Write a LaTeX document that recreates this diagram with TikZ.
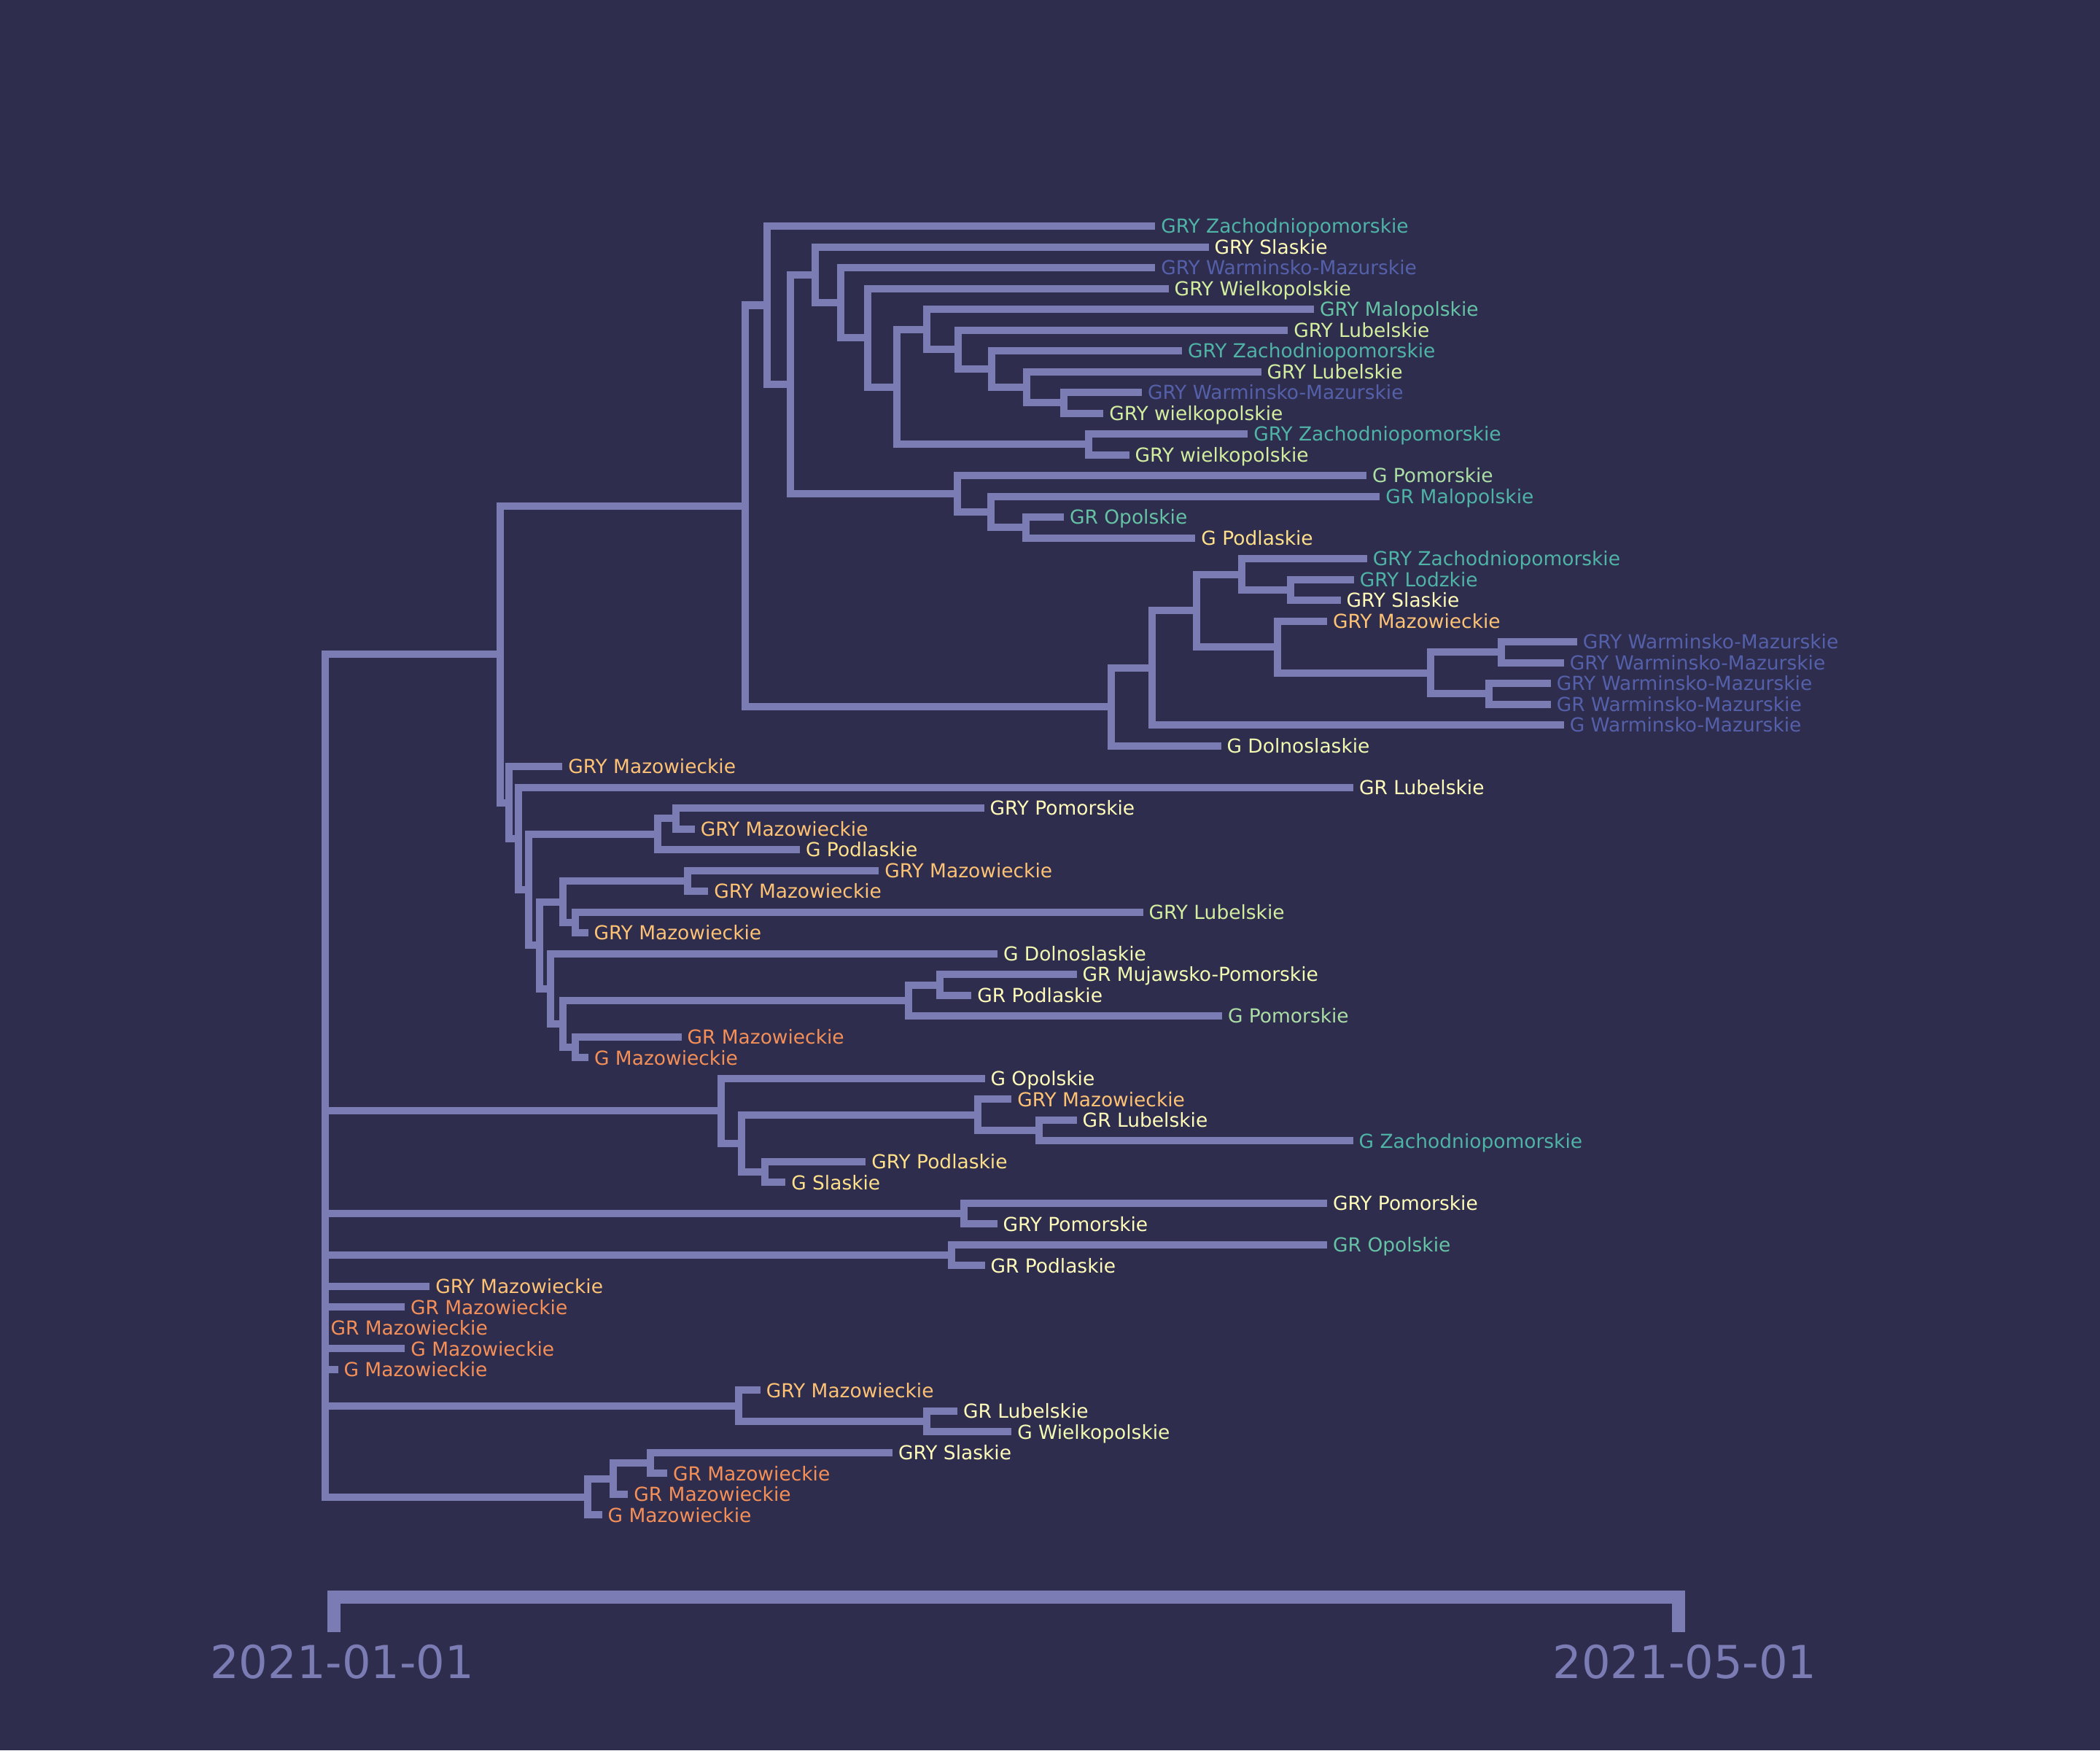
\documentclass[tikz,border=0pt]{standalone}
\usepackage{fontspec}
\setmainfont{DejaVu Sans}
\definecolor{bgnavy}{HTML}{2E2D4E}
\definecolor{lavender}{HTML}{7C7CB5}
\definecolor{zachteal}{HTML}{4FB3A6}
\definecolor{malteal}{HTML}{66C2A5}
\definecolor{pomgreen}{HTML}{ABDDA4}
\definecolor{lubgreen}{HTML}{D2EE9E}
\definecolor{palegreen}{HTML}{F2F9B0}
\definecolor{paleyellow}{HTML}{FFFBB8}
\definecolor{podlyellow}{HTML}{FEE08B}
\definecolor{mazlight}{HTML}{FDC274}
\definecolor{mazorange}{HTML}{F58F58}
\definecolor{warmblue}{HTML}{5560AA}
\tikzset{
  % sample label at the tip of a branch
  leaf/.style={anchor=west, inner xsep=0.08cm, inner ysep=0pt,
    text height=0.8em, text depth=0.2em, font=\fontsize{8.2}{9}\selectfont},
  % tree branches
  branch/.style={draw=lavender, line width=3.1pt, line join=miter},
  % time scale at the bottom
  scalebar/.style={draw=lavender, line width=5.6pt, line join=miter},
  datelabel/.style={anchor=base, text=lavender, inner sep=0pt,
    font=\fontsize{19.3}{22}\selectfont},
}

\begin{document}
\begin{tikzpicture}[x=0.02cm, y={(0cm,-0.02cm)}]
  \fill[bgnavy] (0,0) rectangle (1568,1306.67);
  \useasboundingbox (0,0) rectangle (1568,1306.67);

  % tips
  \node[leaf, text=zachteal] (l1) at (862.6,168.8) {GRY Zachodniopomorskie};
  \node[leaf, text=paleyellow] (l2) at (902.5,184.32) {GRY Slaskie};
  \node[leaf, text=warmblue] (l3) at (862.6,199.84) {GRY Warminsko-Mazurskie};
  \node[leaf, text=lubgreen] (l4) at (872.6,215.36) {GRY Wielkopolskie};
  \node[leaf, text=malteal] (l5) at (981.2,230.88) {GRY Malopolskie};
  \node[leaf, text=lubgreen] (l6) at (961.7,246.4) {GRY Lubelskie};
  \node[leaf, text=zachteal] (l7) at (882.6,261.92) {GRY Zachodniopomorskie};
  \node[leaf, text=lubgreen] (l8) at (941.7,277.44) {GRY Lubelskie};
  \node[leaf, text=warmblue] (l9) at (852.6,292.96) {GRY Warminsko-Mazurskie};
  \node[leaf, text=lubgreen] (l10) at (823.9,308.48) {GRY wielkopolskie};
  \node[leaf, text=zachteal] (l11) at (931.7,324) {GRY Zachodniopomorskie};
  \node[leaf, text=lubgreen] (l12) at (843.1,339.52) {GRY wielkopolskie};
  \node[leaf, text=pomgreen] (l13) at (1020.3,355.04) {G Pomorskie};
  \node[leaf, text=zachteal] (l14) at (1030.3,370.56) {GR Malopolskie};
  \node[leaf, text=malteal] (l15) at (794.4,386.08) {GR Opolskie};
  \node[leaf, text=podlyellow] (l16) at (892.6,401.6) {G Podlaskie};
  \node[leaf, text=zachteal] (l17) at (1020.7,417.12) {GRY Zachodniopomorskie};
  \node[leaf, text=zachteal] (l18) at (1010.9,432.64) {GRY Lodzkie};
  \node[leaf, text=paleyellow] (l19) at (1001,448.16) {GRY Slaskie};
  \node[leaf, text=mazlight] (l20) at (990.9,463.68) {GRY Mazowieckie};
  \node[leaf, text=warmblue] (l21) at (1177.5,479.2) {GRY Warminsko-Mazurskie};
  \node[leaf, text=warmblue] (l22) at (1167.7,494.72) {GRY Warminsko-Mazurskie};
  \node[leaf, text=warmblue] (l23) at (1157.9,510.24) {GRY Warminsko-Mazurskie};
  \node[leaf, text=warmblue] (l24) at (1157.9,525.76) {GR Warminsko-Mazurskie};
  \node[leaf, text=warmblue] (l25) at (1167.7,541.28) {G Warminsko-Mazurskie};
  \node[leaf, text=palegreen] (l26) at (911.7,556.8) {G Dolnoslaskie};
  \node[leaf, text=mazlight] (l27) at (420,572.32) {GRY Mazowieckie};
  \node[leaf, text=paleyellow] (l28) at (1010.5,587.84) {GR Lubelskie};
  \node[leaf, text=paleyellow] (l29) at (734.8,603.36) {GRY Pomorskie};
  \node[leaf, text=mazlight] (l30) at (518.8,618.88) {GRY Mazowieckie};
  \node[leaf, text=podlyellow] (l31) at (597.3,634.4) {G Podlaskie};
  \node[leaf, text=mazlight] (l32) at (656.3,649.92) {GRY Mazowieckie};
  \node[leaf, text=mazlight] (l33) at (528.8,665.44) {GRY Mazowieckie};
  \node[leaf, text=lubgreen] (l34) at (853.5,680.96) {GRY Lubelskie};
  \node[leaf, text=mazlight] (l35) at (439.1,696.48) {GRY Mazowieckie};
  \node[leaf, text=palegreen] (l36) at (744.8,712) {G Dolnoslaskie};
  \node[leaf, text=palegreen] (l37) at (803.9,727.52) {GR Mujawsko-Pomorskie};
  \node[leaf, text=paleyellow] (l38) at (725.4,743.04) {GR Podlaskie};
  \node[leaf, text=pomgreen] (l39) at (912.5,758.56) {G Pomorskie};
  \node[leaf, text=mazorange] (l40) at (508.8,774.08) {GR Mazowieckie};
  \node[leaf, text=mazorange] (l41) at (439.4,789.6) {G Mazowieckie};
  \node[leaf, text=paleyellow] (l42) at (735.3,805.12) {G Opolskie};
  \node[leaf, text=mazlight] (l43) at (755.3,820.64) {GRY Mazowieckie};
  \node[leaf, text=paleyellow] (l44) at (804,836.16) {GR Lubelskie};
  \node[leaf, text=zachteal] (l45) at (1010.3,851.68) {G Zachodniopomorskie};
  \node[leaf, text=podlyellow] (l46) at (646.5,867.2) {GRY Podlaskie};
  \node[leaf, text=podlyellow] (l47) at (586.5,882.72) {G Slaskie};
  \node[leaf, text=paleyellow] (l48) at (991,898.24) {GRY Pomorskie};
  \node[leaf, text=paleyellow] (l49) at (744.6,913.76) {GRY Pomorskie};
  \node[leaf, text=malteal] (l50) at (991,929.28) {GR Opolskie};
  \node[leaf, text=paleyellow] (l51) at (735.3,944.8) {GR Podlaskie};
  \node[leaf, text=mazlight] (l52) at (320.9,960.32) {GRY Mazowieckie};
  \node[leaf, text=mazorange] (l53) at (302.2,975.84) {GR Mazowieckie};
  \node[leaf, text=mazorange] (l54) at (242.6,991.36) {GR Mazowieckie};
  \node[leaf, text=mazorange] (l55) at (302.4,1006.88) {G Mazowieckie};
  \node[leaf, text=mazorange] (l56) at (252.4,1022.4) {G Mazowieckie};
  \node[leaf, text=mazlight] (l57) at (567.8,1037.92) {GRY Mazowieckie};
  \node[leaf, text=paleyellow] (l58) at (714.9,1053.44) {GR Lubelskie};
  \node[leaf, text=palegreen] (l59) at (755.3,1068.96) {G Wielkopolskie};
  \node[leaf, text=paleyellow] (l60) at (666.5,1084.48) {GRY Slaskie};
  \node[leaf, text=mazorange] (l61) at (498.2,1100) {GR Mazowieckie};
  \node[leaf, text=mazorange] (l62) at (469,1115.52) {GR Mazowieckie};
  \node[leaf, text=mazorange] (l63) at (449.5,1131.04) {G Mazowieckie};

  % inner nodes
  \coordinate (c1) at (794.4,300.72);
  \coordinate (c2) at (766.8,289.08);
  \coordinate (c3) at (740.6,275.5);
  \coordinate (c4) at (715.6,260.95);
  \coordinate (c5) at (692,245.92);
  \coordinate (c6) at (813,331.76);
  \coordinate (c7) at (669.9,288.84);
  \coordinate (c8) at (648.1,252.1);
  \coordinate (c9) at (627.9,225.97);
  \coordinate (c10) at (608.9,205.15);
  \coordinate (c11) at (766.2,393.84);
  \coordinate (c12) at (740,382.2);
  \coordinate (c13) at (715,368.62);
  \coordinate (c14) at (590.4,286.88);
  \coordinate (c15) at (573,227.84);
  \coordinate (c16) at (963.4,440.4);
  \coordinate (c17) at (927.2,428.76);
  \coordinate (c18) at (1121.2,486.96);
  \coordinate (c19) at (1112,518);
  \coordinate (c20) at (1068.4,502.48);
  \coordinate (c21) at (954,483.08);
  \coordinate (c22) at (893.3,455.92);
  \coordinate (c23) at (860,498.6);
  \coordinate (c24) at (829.5,527.7);
  \coordinate (c25) at (556.6,377.77);
  \coordinate (c26) at (504.5,611.12);
  \coordinate (c27) at (491.3,622.76);
  \coordinate (c28) at (513.6,657.68);
  \coordinate (c29) at (429.8,688.72);
  \coordinate (c30) at (420.5,673.2);
  \coordinate (c31) at (701.8,735.28);
  \coordinate (c32) at (678.2,746.92);
  \coordinate (c33) at (429.8,781.84);
  \coordinate (c34) at (420.5,764.38);
  \coordinate (c35) at (411.1,738.19);
  \coordinate (c36) at (402.9,705.7);
  \coordinate (c37) at (394.7,664.23);
  \coordinate (c38) at (387.1,626.04);
  \coordinate (c39) at (380.2,599.18);
  \coordinate (c40) at (373.3,488.48);
  \coordinate (c41) at (775.9,843.92);
  \coordinate (c42) at (730.3,832.28);
  \coordinate (c43) at (571,874.96);
  \coordinate (c44) at (553.5,853.62);
  \coordinate (c45) at (538.4,829.37);
  \coordinate (c46) at (719.7,906);
  \coordinate (c47) at (710.3,937.04);
  \coordinate (c48) at (692,1061.2);
  \coordinate (c49) at (551.5,1049.56);
  \coordinate (c50) at (485.7,1092.24);
  \coordinate (c51) at (457.8,1103.88);
  \coordinate (c52) at (439,1117.46);
  \coordinate (root) at (242.6,800);

  % upper clade
  \draw[branch] (l9.west) -| (c1) |- (l10.west);
  \draw[branch] (l8.west) -| (c2) |- (c1);
  \draw[branch] (l7.west) -| (c3) |- (c2);
  \draw[branch] (l6.west) -| (c4) |- (c3);
  \draw[branch] (l5.west) -| (c5) |- (c4);
  \draw[branch] (l11.west) -| (c6) |- (l12.west);
  \draw[branch] (c5) -| (c7) |- (c6);
  \draw[branch] (l4.west) -| (c8) |- (c7);
  \draw[branch] (l3.west) -| (c9) |- (c8);
  \draw[branch] (l2.west) -| (c10) |- (c9);
  \draw[branch] (l15.west) -| (c11) |- (l16.west);
  \draw[branch] (l14.west) -| (c12) |- (c11);
  \draw[branch] (l13.west) -| (c13) |- (c12);
  \draw[branch] (c10) -| (c14) |- (c13);
  \draw[branch] (l1.west) -| (c15) |- (c14);
  \draw[branch] (l18.west) -| (c16) |- (l19.west);
  \draw[branch] (l17.west) -| (c17) |- (c16);
  \draw[branch] (l21.west) -| (c18) |- (l22.west);
  \draw[branch] (l23.west) -| (c19) |- (l24.west);
  \draw[branch] (c18) -| (c20) |- (c19);
  \draw[branch] (l20.west) -| (c21) |- (c20);
  \draw[branch] (c17) -| (c22) |- (c21);
  \draw[branch] (c22) -| (c23) |- (l25.west);
  \draw[branch] (c23) -| (c24) |- (l26.west);
  \draw[branch] (c15) -| (c25) |- (c24);

  % ladder
  \draw[branch] (l29.west) -| (c26) |- (l30.west);
  \draw[branch] (c26) -| (c27) |- (l31.west);
  \draw[branch] (l32.west) -| (c28) |- (l33.west);
  \draw[branch] (l34.west) -| (c29) |- (l35.west);
  \draw[branch] (c28) -| (c30) |- (c29);
  \draw[branch] (l37.west) -| (c31) |- (l38.west);
  \draw[branch] (c31) -| (c32) |- (l39.west);
  \draw[branch] (l40.west) -| (c33) |- (l41.west);
  \draw[branch] (c32) -| (c34) |- (c33);
  \draw[branch] (l36.west) -| (c35) |- (c34);
  \draw[branch] (c30) -| (c36) |- (c35);
  \draw[branch] (c27) -| (c37) |- (c36);
  \draw[branch] (l28.west) -| (c38) |- (c37);
  \draw[branch] (l27.west) -| (c39) |- (c38);
  \draw[branch] (c25) -| (c40) |- (c39);

  % lower clades
  \draw[branch] (l44.west) -| (c41) |- (l45.west);
  \draw[branch] (l43.west) -| (c42) |- (c41);
  \draw[branch] (l46.west) -| (c43) |- (l47.west);
  \draw[branch] (c42) -| (c44) |- (c43);
  \draw[branch] (l42.west) -| (c45) |- (c44);
  \draw[branch] (l48.west) -| (c46) |- (l49.west);
  \draw[branch] (l50.west) -| (c47) |- (l51.west);
  \draw[branch] (l58.west) -| (c48) |- (l59.west);
  \draw[branch] (l57.west) -| (c49) |- (c48);
  \draw[branch] (l60.west) -| (c50) |- (l61.west);
  \draw[branch] (c50) -| (c51) |- (l62.west);
  \draw[branch] (c51) -| (c52) |- (l63.west);

  % root
  \draw[branch] (c40) -| (root) |- (c52);
  \draw[branch] (root |- c45) -- (c45);
  \draw[branch] (root |- c46) -- (c46);
  \draw[branch] (root |- c47) -- (c47);
  \draw[branch] (root |- l52.west) -- (l52.west);
  \draw[branch] (root |- l53.west) -- (l53.west);
  \draw[branch] (root |- l55.west) -- (l55.west);
  \draw[branch] (root |- l56.west) -- (l56.west);
  \draw[branch] (root |- c49) -- (c49);

  % time scale
  \coordinate (tl) at (249.5,1218.4);
  \coordinate (tr) at (1253.5,1218.4);
  \draw[scalebar] (tl) -- ++(0,-26.1) -| (tr);
  \node[datelabel] (start) at (255.5,1253.1) {2021-01-01};
  \node[datelabel] (stop) at (1258,1253.1) {2021-05-01};
\end{tikzpicture}
\end{document}
